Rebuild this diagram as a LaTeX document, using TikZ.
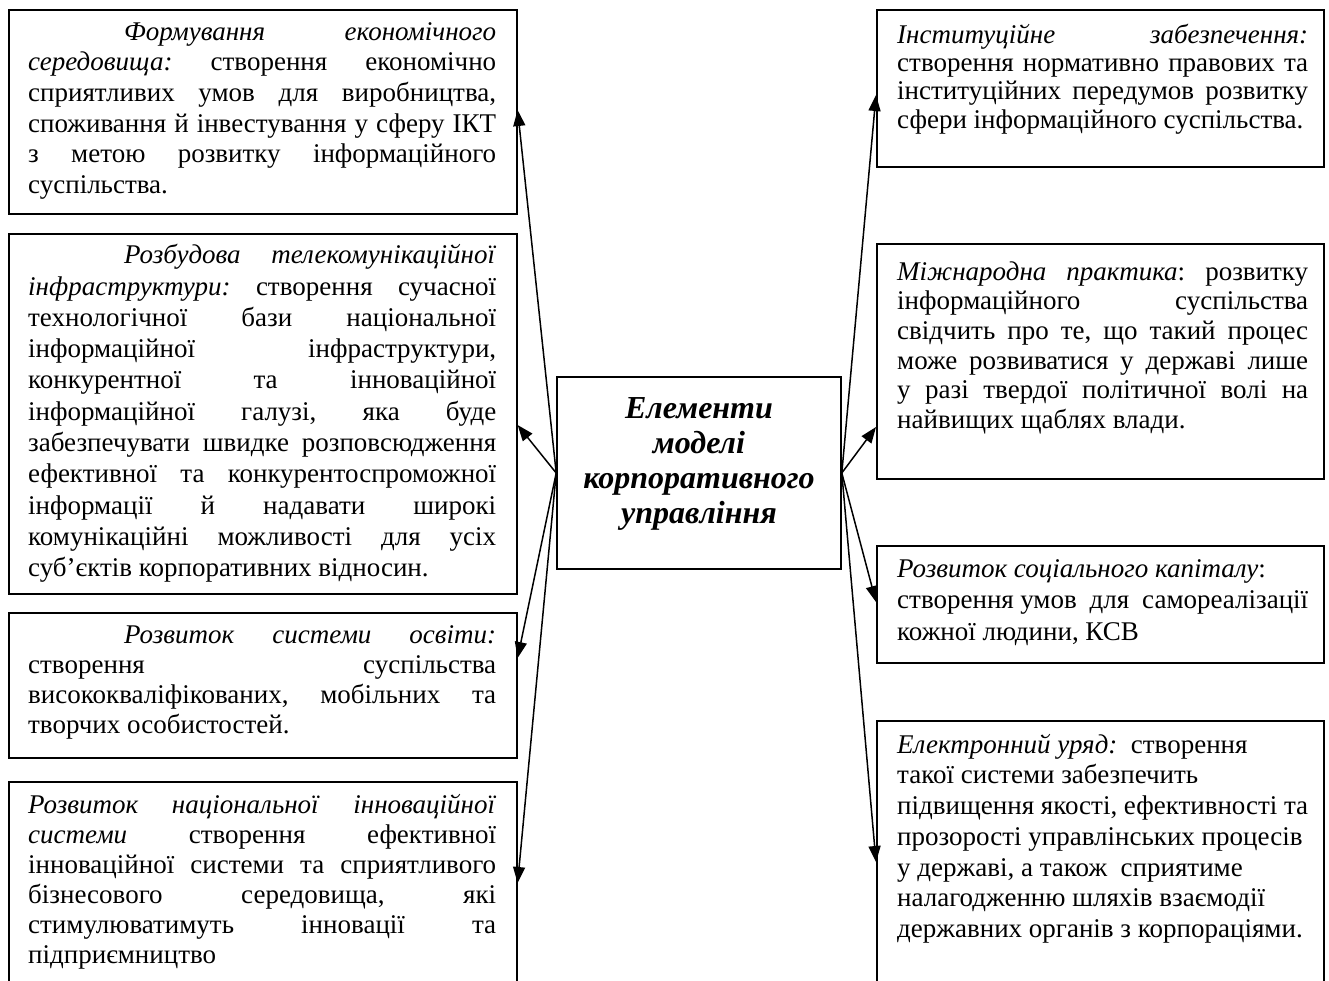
\documentclass[tikz,border=0pt]{standalone}
\usepackage{fontspec}
\setmainfont{Liberation Serif}
\usetikzlibrary{arrows.meta}
\newlength\lw \setlength\lw{468pt}
\newlength\rw \setlength\rw{411pt}
\newcommand\jl[2]{\makebox[#1][s]{\spaceskip=0pt\xspaceskip=0pt\relax #2}}
\newcommand\fs{\spaceskip=0pt\xspaceskip=0pt\frenchspacing\relax\rule{0pt}{23pt}}
\begin{document}
\begin{tikzpicture}[x=1pt,y=-1pt,
  box/.style={draw, line width=1.6pt, rectangle, inner sep=0pt, anchor=north west},
  txt/.style={inner sep=0pt, anchor=north west, align=left},
  ttl/.style={inner sep=0pt, anchor=north, align=center, font=\fontsize{32}{35}\selectfont\bfseries\itshape},
  arr/.style={line width=1.5pt, -{Triangle[length=16pt,width=12pt]}}]
\useasboundingbox (0,0) rectangle (1329,980);
\clip (0,0) rectangle (1329,980);
\fill[white] (0,0) rectangle (1329,980);

% left boxes
\node[box, minimum width=508pt, minimum height=204pt] (L1) at (8,9) {};
\node[box, minimum width=508pt, minimum height=360pt] (L2) at (8,233) {};
\node[box, minimum width=508pt, minimum height=145pt] (L3) at (8,612) {};
\node[box, minimum width=508pt, minimum height=210pt] (L4) at (8,781) {};
% right boxes
\node[box, minimum width=447pt, minimum height=157pt] (R1) at (876,9) {};
\node[box, minimum width=447pt, minimum height=235pt] (R2) at (876,243) {};
\node[box, minimum width=447pt, minimum height=117pt] (R3) at (876,545) {};
\node[box, minimum width=447pt, minimum height=270pt] (R4) at (876,720) {};
% centre
\node[box, anchor=center, minimum width=284pt, minimum height=192pt] (C) at (699,473) {};
\node[ttl] (T) at (699,395) {\rule{0pt}{23pt}Елементи\\моделі\\корпоративного\\управління};

% texts left
\node[txt, text width=\lw, font=\fontsize{27}{30.6}\selectfont] (tL1) at (28,17) {\fs\jl{\lw}{\hspace*{96pt}\textit{Формування} \textit{економічного}}\\
\jl{\lw}{\textit{середовища:} створення економічно}\\
\jl{\lw}{сприятливих умов для виробництва,}\\
\jl{\lw}{споживання й інвестування у сферу ІКТ}\\
\jl{\lw}{з метою розвитку інформаційного}\\
суспільства.};

\node[txt, text width=\lw, font=\fontsize{27}{31.3}\selectfont] (tL2) at (28,240.5) {\fs\jl{\lw}{\hspace*{96pt}\textit{Розбудова} \textit{телекомунікаційної}}\\
\jl{\lw}{\textit{інфраструктури:} створення сучасної}\\
\jl{\lw}{технологічної бази національної}\\
\jl{\lw}{інформаційної інфраструктури,}\\
\jl{\lw}{конкурентної та інноваційної}\\
\jl{\lw}{інформаційної галузі, яка буде}\\
\jl{\lw}{забезпечувати швидке розповсюдження}\\
\jl{\lw}{ефективної та конкурентоспроможної}\\
\jl{\lw}{інформації й надавати широкі}\\
\jl{\lw}{комунікаційні можливості для усіх}\\
суб’єктів корпоративних відносин.};

\node[txt, text width=\lw, font=\fontsize{27}{30}\selectfont] (tL3) at (28,620) {\fs\jl{\lw}{\hspace*{96pt}\textit{Розвиток} \textit{системи} \textit{освіти:}}\\
\jl{\lw}{створення суспільства}\\
\jl{\lw}{висококваліфікованих, мобільних та}\\
творчих особистостей.};

\node[txt, text width=\lw, font=\fontsize{27}{30}\selectfont] (tL4) at (28,790) {\fs\jl{\lw}{\textit{Розвиток} \textit{національної} \textit{інноваційної}}\\
\jl{\lw}{\textit{системи} створення ефективної}\\
\jl{\lw}{інноваційної системи та сприятливого}\\
\jl{\lw}{бізнесового середовища, які}\\
\jl{\lw}{стимулюватимуть інновації та}\\
підприємництво};

% texts right
\node[txt, text width=\rw, font=\fontsize{27}{28.3}\selectfont] (tR1) at (897,20) {\fs\jl{\rw}{\textit{Інституційне} \textit{забезпечення:}}\\
\jl{\rw}{створення нормативно правових та}\\
\jl{\rw}{інституційних передумов розвитку}\\
сфери інформаційного суспільства.};

\node[txt, text width=\rw, font=\fontsize{27}{29.6}\selectfont] (tR2) at (897,257) {\fs\jl{\rw}{\textit{Міжнародна} \textit{практика}: розвитку}\\
\jl{\rw}{інформаційного суспільства}\\
\jl{\rw}{свідчить про те, що такий процес}\\
\jl{\rw}{може розвиватися у державі лише}\\
\jl{\rw}{у разі твердої політичної волі на}\\
найвищих щаблях влади.};

\node[txt, text width=\rw, font=\fontsize{27}{31.5}\selectfont] (tR3) at (897,554) {\fs\textit{Розвиток соціального капіталу}:\\
\jl{\rw}{створення умов\ \ для\ \ самореалізації}\\
кожної людини, КСВ};

\node[txt, text width=\rw, font=\fontsize{27}{30.7}\selectfont] (tR4) at (897,730) {\fs\textit{Електронний уряд:}\ \ створення\\
такої системи забезпечить\\
підвищення якості, ефективності та\\
прозорості управлінських процесів\\
у державі, а також\ \ сприятиме\\
налагодженню шляхів взаємодії\\
державних органів з корпораціями.};

% arrows
\draw[arr] (C.west) -- (L1.east |- 0,110);
\draw[arr] (C.west) -- (L2.east |- 0,425);
\draw[arr] (C.west) -- (L3.east |- 0,658);
\draw[arr] (C.west) -- (L4.east |- 0,883);
\draw[arr] (C.east) -- (R1.west |- 0,95);
\draw[arr] (C.east) -- (R2.west |- 0,427);
\draw[arr] (C.east) -- (R3.west |- 0,602);
\draw[arr] (C.east) -- (R4.west |- 0,862);
\end{tikzpicture}
\end{document}
